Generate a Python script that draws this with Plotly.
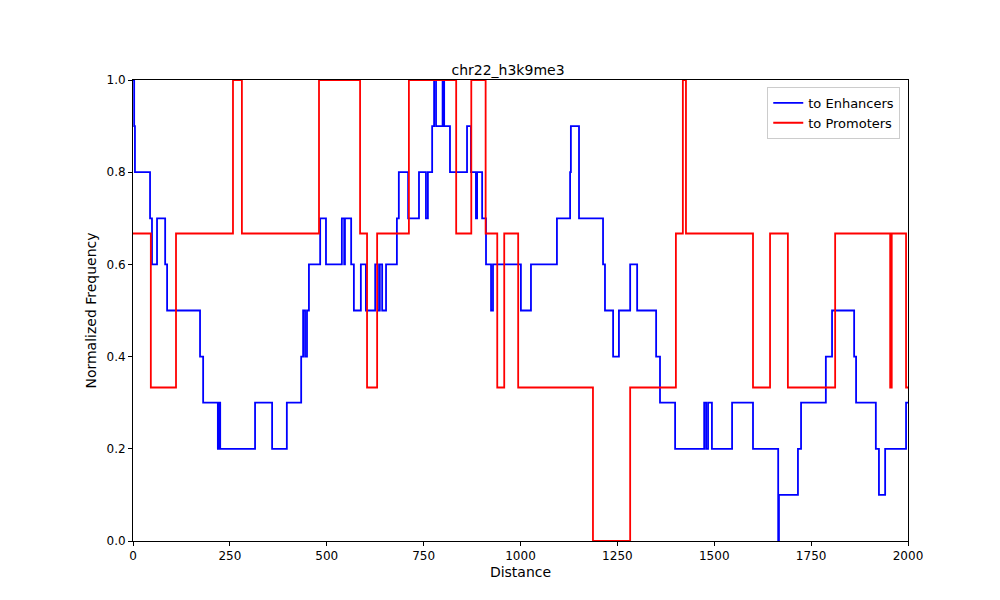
import plotly.graph_objects as go

# step data: x where value starts, value
enh_x = [0, 3, 5, 44, 49, 62, 83, 88, 173, 181, 219, 222, 225, 315, 359, 397, 434, 439, 444, 449, 454,
         483, 498, 539, 545, 547, 563, 570, 588, 601, 625, 632, 637, 643, 653, 681, 686, 710, 738, 756,
         761, 772, 777, 782, 799, 803, 818, 862, 872, 885, 888, 901, 911, 924, 929, 1001, 1027, 1094,
         1128, 1130, 1151, 1213, 1218, 1239, 1254, 1283, 1301, 1350, 1360, 1399, 1474, 1479, 1484, 1494,
         1546, 1600, 1665, 1667, 1716, 1724, 1788, 1804, 1861, 1866, 1917, 1925, 1941, 1995, 2000]
enh_y = [1.0, 0.9, 0.8, 0.7, 0.6, 0.7, 0.6, 0.5, 0.4, 0.3, 0.2, 0.3, 0.2, 0.3, 0.2, 0.3, 0.4, 0.5, 0.4, 0.5, 0.6,
         0.7, 0.6, 0.7, 0.6, 0.7, 0.6, 0.5, 0.6, 0.5, 0.6, 0.5, 0.6, 0.5, 0.6, 0.7, 0.8, 0.7, 0.8, 0.7,
         0.8, 0.9, 1.0, 0.9, 1.0, 0.9, 0.8, 0.9, 0.8, 0.7, 0.8, 0.7, 0.6, 0.5, 0.6, 0.5, 0.6, 0.7,
         0.8, 0.9, 0.7, 0.6, 0.5, 0.4, 0.5, 0.6, 0.5, 0.4, 0.3, 0.2, 0.3, 0.2, 0.3, 0.2,
         0.3, 0.2, 0.0, 0.1, 0.2, 0.3, 0.4, 0.5, 0.4, 0.3, 0.2, 0.1, 0.2, 0.3, 0.3]

prom_x = [0, 46, 111, 258, 281, 480, 586, 604, 630, 712, 834, 873, 910, 940, 958, 994, 1187, 1283,
          1401, 1419, 1427, 1600, 1644, 1690, 1812, 1954, 1958, 1995, 2000]
prom_y = [0.667, 0.333, 0.667, 1.0, 0.667, 1.0, 0.667, 0.333, 0.667, 1.0, 0.667, 1.0, 0.667, 0.333,
          0.667, 0.333, 0.0, 0.333, 0.667, 1.0, 0.667, 0.333, 0.667, 0.333, 0.667, 0.333, 0.667, 0.333, 0.333]

fig = go.Figure()
fig.add_trace(go.Scatter(x=enh_x, y=enh_y, mode="lines", line_shape="hv",
                         line=dict(color="blue", width=1.8), name="to Enhancers"))
fig.add_trace(go.Scatter(x=prom_x, y=prom_y, mode="lines", line_shape="hv",
                         line=dict(color="red", width=1.8), name="to Promoters"))

axis = dict(showgrid=False, zeroline=False, showline=True, linecolor="black", mirror=True,
            ticks="outside", ticklen=4, tickcolor="black")
fig.update_layout(
    width=1000, height=600, plot_bgcolor="white", paper_bgcolor="white",
    font=dict(family="DejaVu Sans", size=12, color="black"),
    title=dict(text="chr22_h3k9me3", x=0.5, xanchor="center", y=0.905, font=dict(size=14)),
    margin=dict(l=125, r=100, t=72, b=67),
    xaxis=dict(axis, range=[0, 2000], tickvals=[0, 250, 500, 750, 1000, 1250, 1500, 1750, 2000],
               title=dict(text="Distance", standoff=4)),
    yaxis=dict(axis, range=[0, 1], tickvals=[0, 0.2, 0.4, 0.6, 0.8, 1.0], tickformat=".1f",
               title=dict(text="Normalized Frequency", standoff=6)),
    legend=dict(x=0.99, y=0.985, xanchor="right", yanchor="top", bgcolor="white",
                bordercolor="#cccccc", borderwidth=1, font=dict(size=13)),
)
fig.write_html("out.html")
